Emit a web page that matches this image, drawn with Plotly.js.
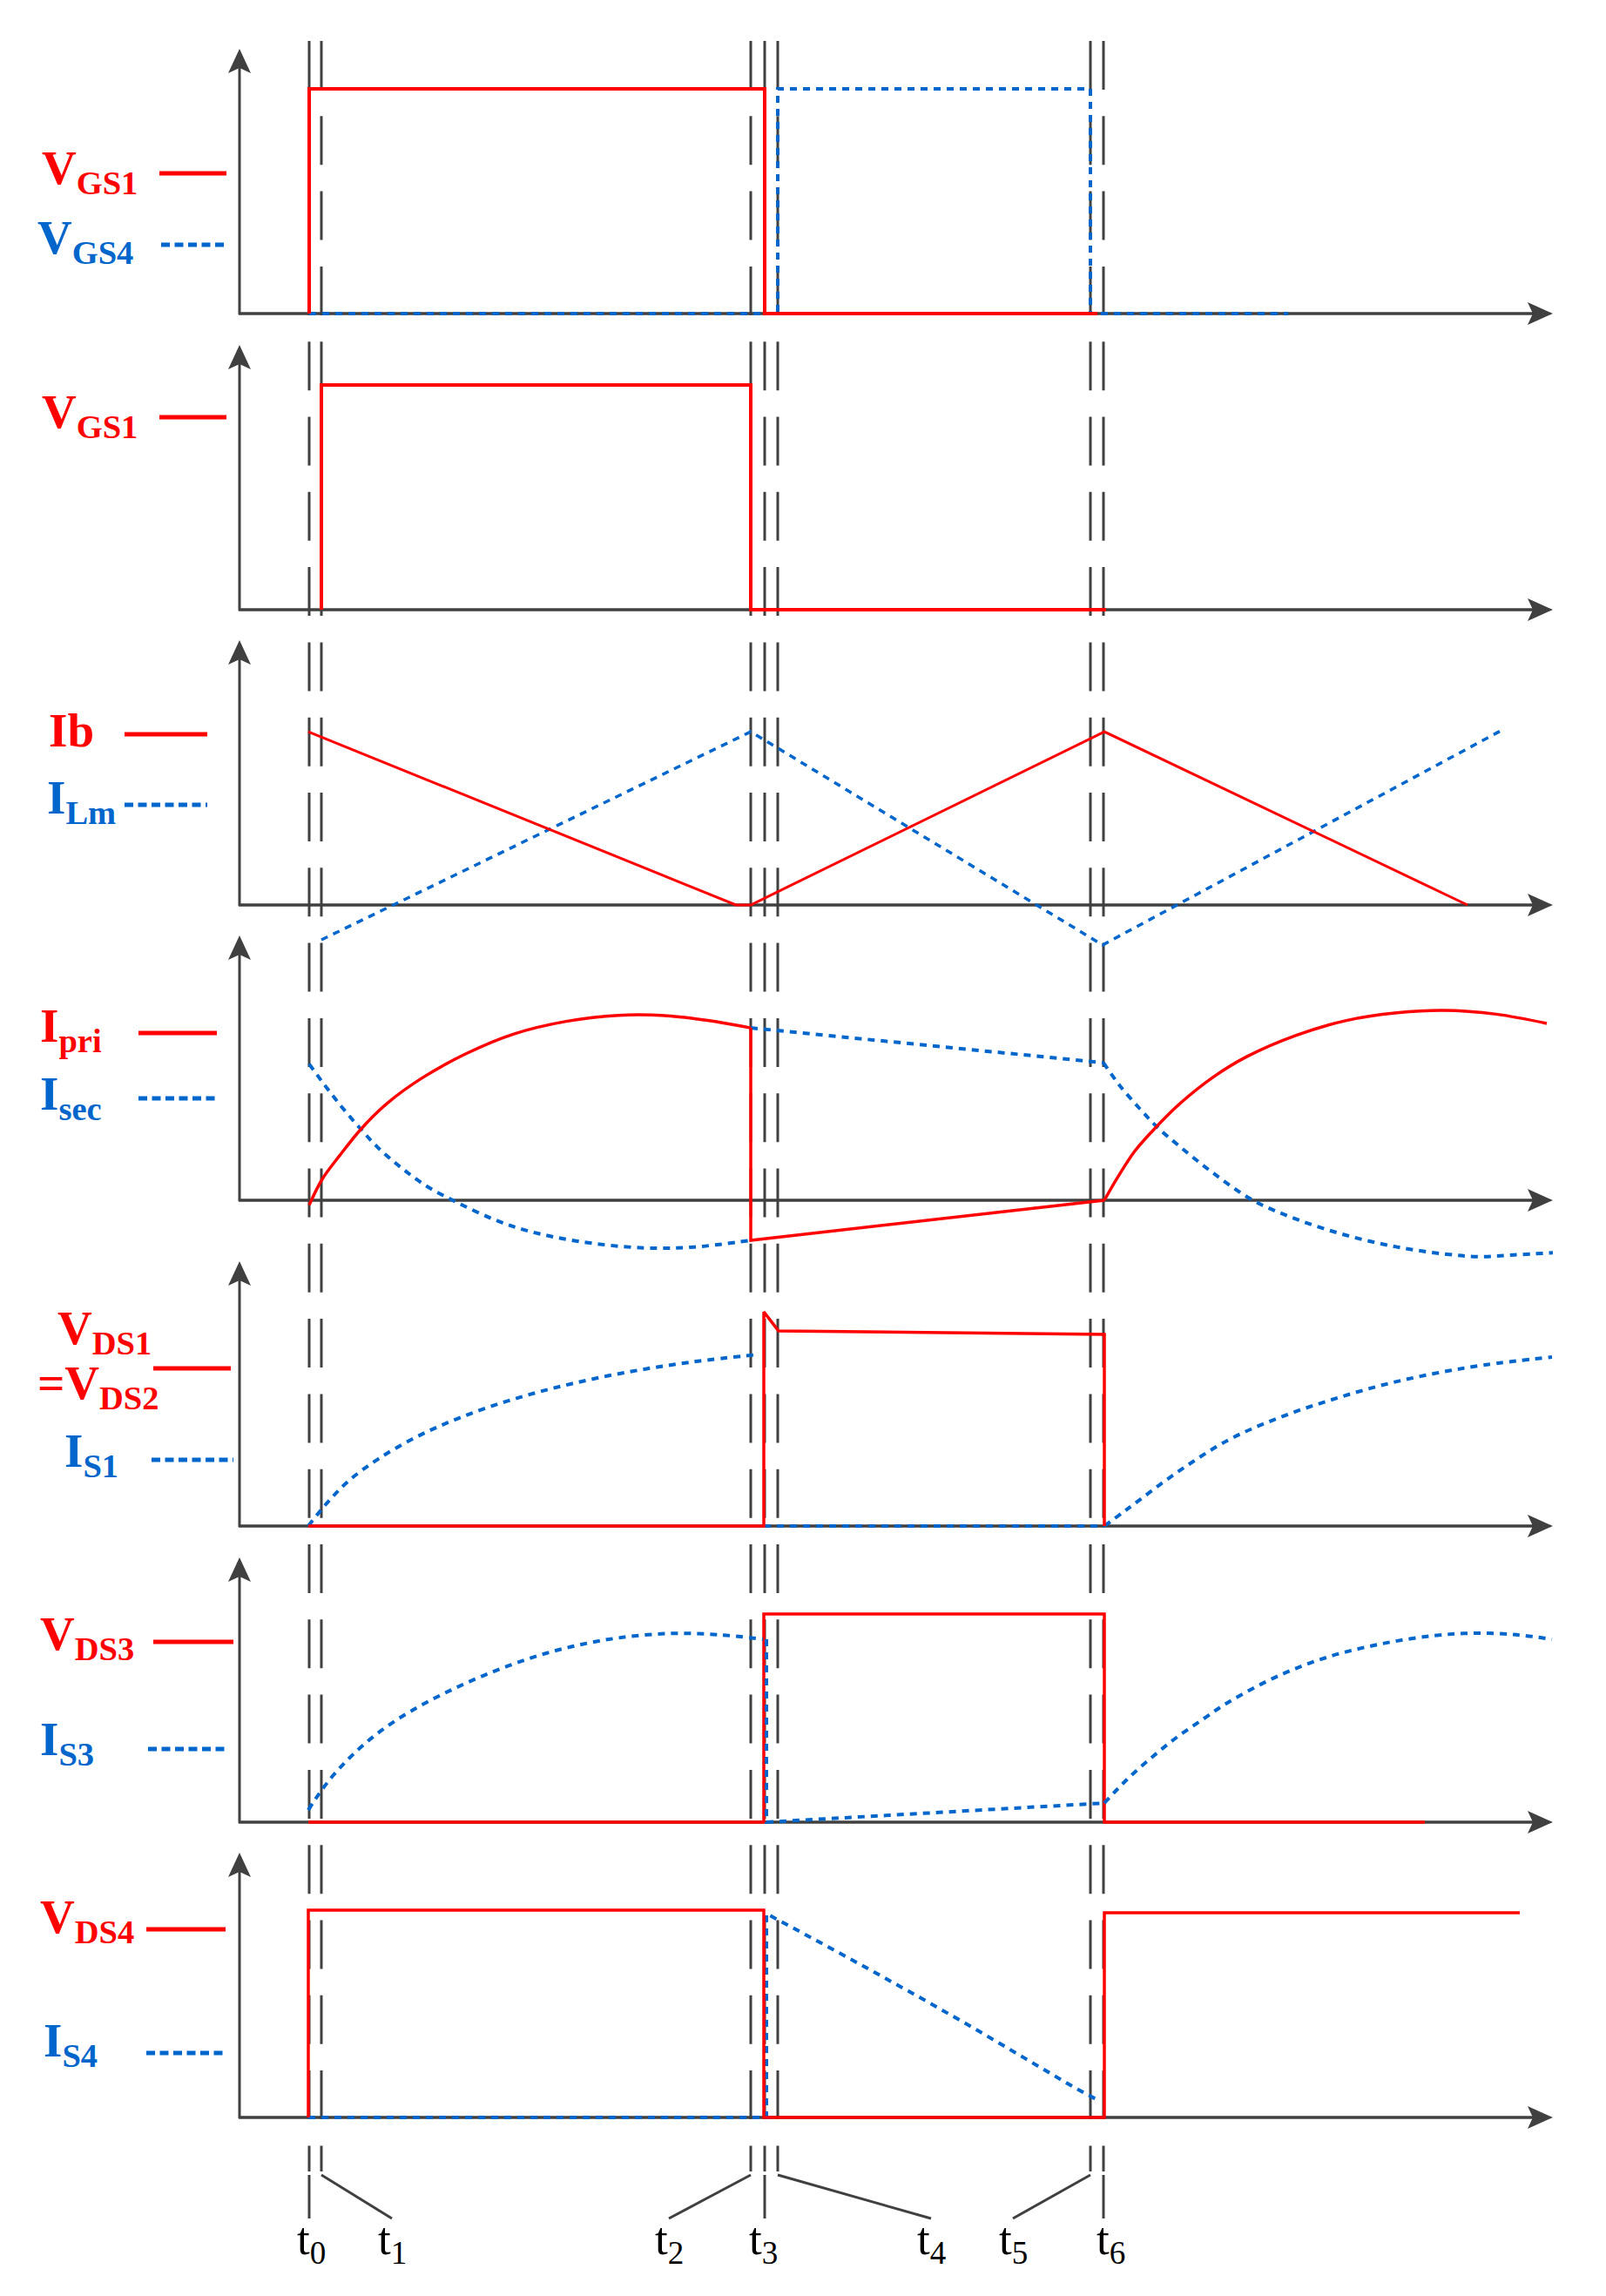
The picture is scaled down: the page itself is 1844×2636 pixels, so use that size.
<!DOCTYPE html>
<html>
<head>
<meta charset="utf-8">
<script src="https://cdn.plot.ly/plotly-3.0.1.min.js"></script>
<style>html,body{margin:0;padding:0;background:#fff;}</style>
</head>
<body>
<div id="chart" style="width:1844px;height:2636px;"></div>
<script>
// ================= DATA (time units, normalised amplitude: 1 = gate high level) =================
const tNames   = ['t0','t1','t2','t3','t4','t5','t6'];
const tValues  = [0, 14, 507, 523, 538, 897, 912];
const tLabelAt = [2, 95, 413, 521, 714, 808, 920];

// Panel 1 : VGS1 / VGS4
const vgs1A_t = [0, 0, 523, 523, 905];
const vgs1A_v = [0, 1, 1, 0, 0];
const vgs4_t  = [0, 538, 538, 897, 897, 1124];
const vgs4_v  = [0, 0, 1, 1, 0, 0];
// Panel 2 : VGS1
const vgs1B_t = [14, 14, 507, 507, 915];
const vgs1B_v = [0, 1, 1, 0, 0];
// Panel 3 : Ib / ILm
const ib_t  = [-1, 490, 507, 913, 1330];
const ib_v  = [0.771, 0, 0, 0.771, 0];
const ilm_t = [14, 507, 911, 1368];
const ilm_v = [-0.155, 0.771, -0.178, 0.775];
// Panel 4 : Ipri / Isec
const ipri1_t = [0, 15, 35, 60, 90, 130, 180, 235, 295, 355, 415, 470, 507];
const ipri1_v = [-0.021, 0.094, 0.199, 0.319, 0.433, 0.545, 0.652, 0.740, 0.796, 0.823, 0.820, 0.793, 0.767];
const ipri2_t = [507, 507, 913];
const ipri2_v = [0.767, -0.178, 0];
const ipri3_t = [913, 928, 948, 973, 1000, 1038, 1076, 1134, 1191, 1249, 1302, 1363, 1421];
const ipri3_v = [0, 0.100, 0.219, 0.328, 0.431, 0.548, 0.638, 0.735, 0.800, 0.834, 0.845, 0.828, 0.787];
const isec1_t = [0, 21, 40, 59, 78, 105, 136, 170, 212, 250, 308, 384, 442, 507];
const isec1_v = [0.606, 0.496, 0.403, 0.318, 0.238, 0.147, 0.060, -0.010, -0.085, -0.135, -0.182, -0.212, -0.208, -0.178];
const isec2_t = [507, 912];
const isec2_v = [0.767, 0.612];
const isec3_t = [912, 931, 954, 973, 1000, 1038, 1084, 1134, 1191, 1249, 1306, 1344, 1383, 1428];
const isec3_v = [0.612, 0.509, 0.406, 0.328, 0.238, 0.121, -0.001, -0.085, -0.156, -0.208, -0.240, -0.251, -0.243, -0.234];
// Panel 5 : VDS1 = VDS2 / IS1
const vds1_t = [-1, 522, 522, 539, 913, 913];
const vds1_v = [0, 0, 0.953, 0.868, 0.853, 0];
const is1a_t = [-1, 20, 45, 80, 125, 175, 235, 300, 370, 440, 517];
const is1a_v = [0, 0.100, 0.200, 0.300, 0.400, 0.485, 0.565, 0.632, 0.688, 0.730, 0.764];
const is1b_t = [522, 913];
const is1b_v = [0, 0];
const is1c_t = [913, 939, 997, 1056, 1115, 1174, 1233, 1291, 1350, 1427];
const is1c_v = [0, 0.074, 0.240, 0.384, 0.484, 0.562, 0.628, 0.678, 0.717, 0.752];
// Panel 6 : VDS3 / IS3
const vds3_t = [-1, 522, 522, 913, 913, 1281];
const vds3_v = [0, 0, 0.926, 0.926, 0, 0];
const is3a_t = [-1, 12, 28, 50, 80, 115, 155, 200, 250, 300, 355, 415, 470, 521];
const is3a_v = [0.054, 0.130, 0.210, 0.300, 0.400, 0.490, 0.573, 0.652, 0.725, 0.780, 0.820, 0.840, 0.834, 0.814];
const is3b_t = [525, 525, 913];
const is3b_v = [0.814, 0, 0.085];
const is3c_t = [913, 939, 968, 997, 1027, 1056, 1115, 1174, 1233, 1291, 1339, 1386, 1427];
const is3c_v = [0.085, 0.190, 0.290, 0.380, 0.460, 0.535, 0.655, 0.740, 0.795, 0.830, 0.841, 0.834, 0.814];
// Panel 7 : VDS4 / IS4
const vds4_t = [-1, -1, 522, 522, 913, 913, 1390];
const vds4_v = [0, 0.922, 0.922, 0, 0, 0.911, 0.911];
const is4_t  = [-1, 525, 525, 586, 645, 703, 762, 821, 880, 907];
const is4_v  = [0, 0, 0.907, 0.780, 0.655, 0.530, 0.400, 0.265, 0.130, 0.074];

// Signal name labels (text)
const sigNames = ['V<sub>GS1</sub>','V<sub>GS4</sub>','V<sub>GS1</sub>','Ib','I<sub>Lm</sub>',
  'I<sub>pri</sub>','I<sub>sec</sub>','V<sub>DS1</sub>','=V<sub>DS2</sub>','I<sub>S1</sub>',
  'V<sub>DS3</sub>','I<sub>S3</sub>','V<sub>DS4</sub>','I<sub>S4</sub>'];

// ================= LAYOUT GEOMETRY =================
const W = 1844, H = 2636;
const PX = x => x / W;
const PY = y => 1 - y / H;
const RED = '#ff0000', BLUE = '#0066cc', AX = '#404040';
const baselines = [360, 700, 1039, 1378, 1752, 2092, 2431];
const unitPx = 258, vMin = -0.3, vMax = 1.3;
const xOriginPx = 355;

const layout = {
  width: W, height: H,
  margin: {l:0, r:0, t:0, b:0, pad:0},
  paper_bgcolor: '#ffffff', plot_bgcolor: 'rgba(0,0,0,0)',
  showlegend: false,
  xaxis: {range:[-xOriginPx, W - xOriginPx], domain:[0,1], visible:false, fixedrange:true},
  shapes: [], annotations: []
};
baselines.forEach((B, i) => {
  const key = i === 0 ? 'yaxis' : 'yaxis' + (i + 1);
  layout[key] = {
    domain: [PY(B - vMin * unitPx), PY(B - vMax * unitPx)],
    range: [vMin, vMax], visible:false, fixedrange:true, anchor:'x'
  };
});

const traces = [];
function add(panel, t, v, color, dotted, spline, width) {
  traces.push({
    type:'scatter', mode:'lines', x:t, y:v,
    xaxis:'x', yaxis: panel === 1 ? 'y' : 'y' + panel,
    hoverinfo:'skip',
    line:{color:color, width: width || (dotted ? 4 : 3.5),
          dash: dotted ? '8px,7px' : 'solid', simplify:false,
          shape: spline ? 'spline' : 'linear', smoothing: 1}
  });
}
// blue first, red on top
add(1, vgs4_t, vgs4_v, BLUE, true, false);
add(1, vgs1A_t, vgs1A_v, RED, false, false, 4);
add(2, vgs1B_t, vgs1B_v, RED, false, false, 4);
add(3, ilm_t, ilm_v, BLUE, true, false, 3.5);
add(3, ib_t, ib_v, RED, false, false, 3);
add(4, isec1_t, isec1_v, BLUE, true, true);
add(4, isec2_t, isec2_v, BLUE, true, false);
add(4, isec3_t, isec3_v, BLUE, true, true);
add(4, ipri1_t, ipri1_v, RED, false, true);
add(4, ipri2_t, ipri2_v, RED, false, false);
add(4, ipri3_t, ipri3_v, RED, false, true);
add(5, is1a_t, is1a_v, BLUE, true, true);
add(5, is1b_t, is1b_v, BLUE, true, false);
add(5, is1c_t, is1c_v, BLUE, true, true);
add(5, vds1_t, vds1_v, RED, false, false);
add(6, vds3_t, vds3_v, RED, false, false);
add(6, is3a_t, is3a_v, BLUE, true, true);
add(6, is3b_t, is3b_v, BLUE, true, false);
add(6, is3c_t, is3c_v, BLUE, true, true);
add(7, is4_t, is4_v, BLUE, true, false);
add(7, vds4_t, vds4_v, RED, false, false);

const S = layout.shapes;
// dashed time markers
tValues.forEach(t => {
  S.push({type:'line', xref:'x', yref:'paper', x0:t, x1:t, y0:PY(47), y1:PY(2493),
          line:{color:AX, width:3, dash:'56px,30.3px'}, layer:'below'});
});
// leader lines to labels (t0, t3, t6 straight down)
tValues.forEach((t, i) => {
  const straight = (i === 0 || i === 3 || i === 6);
  S.push({type:'line', xref:'x', yref:'paper', x0:t, x1: straight ? t : tLabelAt[i],
          y0:PY(2497), y1:PY(2547), line:{color:AX, width:3}, layer:'below'});
});
// axes with arrowheads
function P(x, y) { return PX(x) + ',' + PY(y); }
baselines.forEach(B => {
  const yx = 275, xEnd = 1783, top = B - 304;
  S.push({type:'line', xref:'paper', yref:'paper', x0:PX(yx), x1:PX(yx), y0:PY(B + 1), y1:PY(top + 20),
          line:{color:AX, width:3}, layer:'below'});
  S.push({type:'line', xref:'paper', yref:'paper', x0:PX(yx - 1), x1:PX(xEnd - 20), y0:PY(B), y1:PY(B),
          line:{color:AX, width:3.5}, layer:'below'});
  S.push({type:'path', xref:'paper', yref:'paper', layer:'below',
          path:'M' + P(yx, top) + 'L' + P(yx - 13, top + 28) + 'L' + P(yx, top + 22) + 'L' + P(yx + 13, top + 28) + 'Z',
          fillcolor:AX, line:{width:0}});
  S.push({type:'path', xref:'paper', yref:'paper', layer:'below',
          path:'M' + P(xEnd, B) + 'L' + P(xEnd - 29, B - 13) + 'L' + P(xEnd - 23, B) + 'L' + P(xEnd - 29, B + 13) + 'Z',
          fillcolor:AX, line:{width:0}});
});
// legend sample strokes next to names
const sampleLines = [
  [183, 260, 199, RED], [185, 261, 281, BLUE], [183, 260, 479, RED],
  [143, 238, 843, RED], [143, 238, 924, BLUE], [159, 249, 1186, RED], [159, 249, 1261, BLUE],
  [176, 265, 1571, RED], [174, 268, 1676, BLUE], [176, 268, 1885, RED], [170, 261, 2008, BLUE],
  [168, 259, 2215, RED], [168, 261, 2357, BLUE]
];
sampleLines.forEach(s => {
  S.push({type:'line', xref:'paper', yref:'paper', x0:PX(s[0]), x1:PX(s[1]), y0:PY(s[2]), y1:PY(s[2]),
          line:{color:s[3], width:5, dash: s[3] === BLUE ? '10px,5.5px' : 'solid'}});
});

// signal name annotations: [left x, baseline y, colour]
const namePos = [
  [47, 210, RED], [42, 290, BLUE], [47, 490, RED], [55, 857, RED], [53, 933, BLUE],
  [45, 1195, RED], [45, 1273, BLUE], [65, 1542, RED], [42, 1605, RED], [73, 1683, BLUE],
  [45, 1893, RED], [45, 2014, BLUE], [45, 2218, RED], [49, 2360, BLUE]
];
sigNames.forEach((txt, i) => {
  const p = namePos[i];
  const hasSub = txt.indexOf('<sub>') >= 0;
  layout.annotations.push({
    text:'<b>' + txt + '</b>', xref:'paper', yref:'paper',
    x:PX(p[0]), y:PY(p[1] - (hasSub ? 14 : 18)), xanchor:'left', yanchor:'middle',
    showarrow:false, borderpad:0,
    font:{family:'Liberation Serif, Times New Roman, serif', size:55, color:p[2]}
  });
});
// time labels
tNames.forEach((n, i) => {
  layout.annotations.push({
    text:'t<sub>' + n.slice(1) + '</sub>', xref:'x', yref:'paper',
    x:tLabelAt[i], y:PY(2574), xanchor:'center', yanchor:'middle',
    showarrow:false, borderpad:0,
    font:{family:'Liberation Serif, Times New Roman, serif', size:53, color:'#000000'}
  });
});

Plotly.newPlot('chart', traces, layout, {staticPlot:true, displayModeBar:false});
</script>
</body>
</html>
